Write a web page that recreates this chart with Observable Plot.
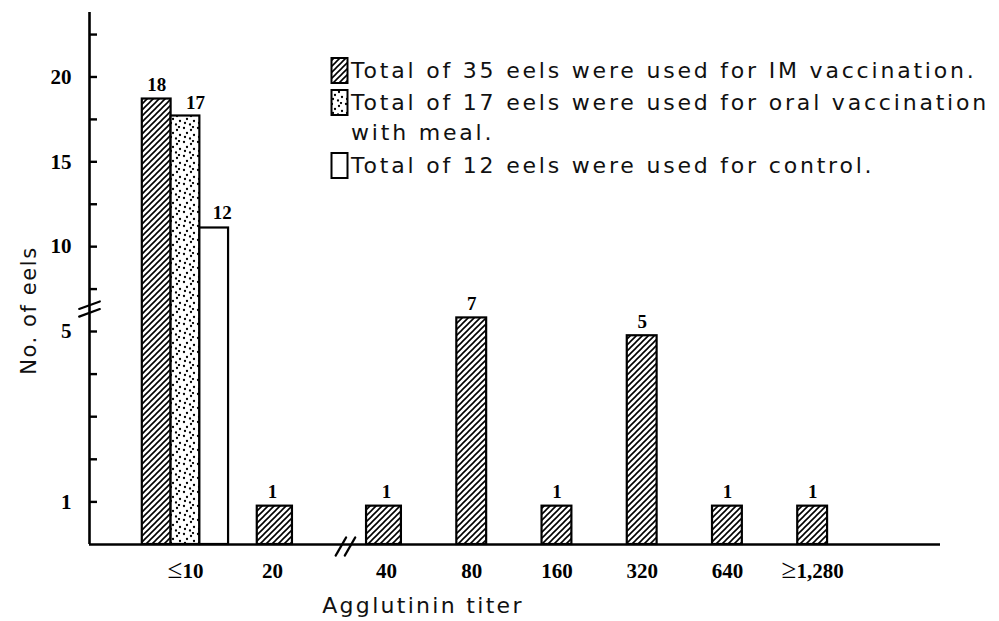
<!DOCTYPE html>
<html>
<head>
<meta charset="utf-8">
<script src="https://cdn.jsdelivr.net/npm/d3@7"></script>
<script src="https://cdn.jsdelivr.net/npm/@observablehq/plot@0.6"></script>
<style>
html, body { margin: 0; padding: 0; background: #fff; width: 999px; height: 621px; overflow: hidden; }
#wrap { position: relative; width: 999px; height: 621px; }
#legend { position: absolute; left: 0; top: 0; font-family: "DejaVu Sans", sans-serif; font-size: 22px; letter-spacing: 2.8px; color: #111; white-space: nowrap; }
.row { position: absolute; left: 330px; }
.row svg { position: absolute; left: 0; }
.row span { position: absolute; left: 21px; line-height: 30px; }
</style>
</head>
<body>
<div id="wrap"><div id="legend"></div></div>
<script>
// ---- data ----
const titers = ["≤10", "20", "40", "80", "160", "320", "640", "≥1,280"];
// IM vaccination: printed counts and bar heights as drawn on the (broken) y axis
const imCount  = [18, 1, 1, 7, 1, 5, 1, 1];
const imHeight = [18.7, 0.9, 0.9, 5.8, 0.9, 4.9, 0.9, 0.9];
// oral vaccination with meal (only in the ≤10 class)
const oralCount  = [17];
const oralHeight = [17.7];
// control (only in the ≤10 class)
const controlCount  = [12];
const controlHeight = [11.1];
const yTicks = [1, 2, 3, 4, 5, 7.5, 10, 12.5, 15, 17.5, 20, 22.5];
const yTickLabels = [1, 5, 10, 15, 20];
const yBreak = [6.1, 6.55];
const xBreak = [1.6, 1.68];
const legendLabels = [
  "Total of 35 eels were used for IM vaccination.",
  "Total of 17 eels were used for oral vaccination",
  "with meal.",
  "Total of 12 eels were used for control."
];

// ---- broken axes: piecewise transforms applied by the scales ----
const xStops = [-1.1, 0, 1, 2, 8.5];
const xUnits = [0, 96, 183, 297, 851];
const yStops = [0, 5, 23.8];
const yUnits = [0, 213, 532];
const xPiece = d3.scaleLinear().domain(xStops).range(xUnits);
const yPiece = d3.scaleLinear().domain(yStops).range(yUnits);

// ---- build rows ----
const groupW = 0.33, singleW = 0.35;
const imRows = imCount.map((n, i) => ({
  titer: titers[i], n, h: imHeight[i],
  pos: i === 0 ? -groupW : i, w: i === 0 ? groupW : singleW
}));
const oralRows = oralCount.map((n, i) => ({titer: titers[i], n, h: oralHeight[i], pos: i, w: groupW}));
const controlRows = controlCount.map((n, i) => ({titer: titers[i], n, h: controlHeight[i], pos: i + groupW, w: groupW}));

const serif = "'Liberation Serif', 'DejaVu Serif', serif";
const sans = "'DejaVu Sans', sans-serif";
const x1 = d => d.pos - d.w / 2, x2 = d => d.pos + d.w / 2;

const slash = {draw(ctx, l) { ctx.moveTo(0, 0); ctx.lineTo(0, -l); }};

const chart = Plot.plot({
  width: 999, height: 621,
  marginLeft: 89, marginRight: 59, marginTop: 12, marginBottom: 77,
  x: {type: "linear", transform: xPiece, domain: [xUnits[0], xUnits[xUnits.length - 1]]},
  y: {type: "linear", transform: yPiece, domain: [yUnits[0], yUnits[yUnits.length - 1]]},
  style: {background: "white", color: "black", fontFamily: serif},
  marks: [
    Plot.rectY(imRows, {x1, x2, y1: () => 0, y2: "h", fill: "url(#hatch)", stroke: "black", strokeWidth: 2.2}),
    Plot.rectY(oralRows, {x1, x2, y1: () => 0, y2: "h", fill: "url(#dots)", stroke: "black", strokeWidth: 2.2}),
    Plot.rectY(controlRows, {x1, x2, y1: () => 0, y2: "h", fill: "white", stroke: "black", strokeWidth: 2.2}),
    Plot.ruleX([xStops[0]], {strokeWidth: 2.6}),
    Plot.ruleY([0], {strokeWidth: 2.6}),
    // axis ticks are given in the scales' transformed space
    Plot.axisY({ticks: yTicks.map(yPiece), tickSize: -8, tickFormat: () => "", strokeWidth: 2.4, label: null}),
    Plot.axisY({ticks: yTickLabels.map(yPiece), tickSize: 0, tickPadding: 18, tickFormat: v => String(Math.round(yPiece.invert(v))), fontSize: 21, fontWeight: "bold", fontFamily: serif, label: null}),
    Plot.axisX({ticks: titers.map((t, i) => xPiece(i)), tickSize: 0, tickPadding: 19, tickFormat: v => titers[Math.round(xPiece.invert(v))], fontSize: 21, fontFamily: serif, fontWeight: "bold", label: null}),
    Plot.vector(yBreak, {y: d => d, frameAnchor: "left", length: 22, rotate: 70, anchor: "middle", shape: slash, stroke: "black", strokeWidth: 2.2}),
    Plot.vector(xBreak, {x: d => d, frameAnchor: "bottom", dy: 2, length: 21, rotate: 30, anchor: "middle", shape: slash, stroke: "black", strokeWidth: 2.2}),
    Plot.text(imRows, {x: "pos", y: "h", text: "n", dy: -8, lineAnchor: "bottom", fontSize: 19, fontWeight: "bold", fontFamily: serif}),
    Plot.text(oralRows, {x: "pos", y: "h", text: "n", dx: 10, dy: -7, lineAnchor: "bottom", fontSize: 19, fontWeight: "bold", fontFamily: serif}),
    Plot.text(controlRows, {x: "pos", y: "h", text: "n", dx: 8, dy: -9, lineAnchor: "bottom", fontSize: 19, fontWeight: "bold", fontFamily: serif}),
    Plot.text(["No. of eels"], {frameAnchor: "left", textAnchor: "middle", dx: -60, dy: 32, rotate: -90, text: d => d, fontSize: 21, fontFamily: sans, fill: "#111"}),
    Plot.text(["Agglutinin titer"], {frameAnchor: "bottom", textAnchor: "middle", dx: -92, dy: 68, lineAnchor: "bottom", text: d => d, fontSize: 22, fontFamily: sans, fill: "#111"})
  ]
});

// patterns
const svg = d3.select(chart);
const defs = svg.insert("defs", ":first-child");
const hatch = defs.append("pattern").attr("id", "hatch").attr("patternUnits", "userSpaceOnUse").attr("width", 6).attr("height", 6);
hatch.append("rect").attr("width", 6).attr("height", 6).attr("fill", "white");
hatch.append("path").attr("d", "M-1,1 l2,-2 M0,6 l6,-6 M5,7 l2,-2").attr("stroke", "black").attr("stroke-width", 1.6);
const dots = defs.append("pattern").attr("id", "dots").attr("patternUnits", "userSpaceOnUse").attr("width", 14).attr("height", 14);
dots.append("rect").attr("width", 14).attr("height", 14).attr("fill", "white");
[[2,2],[9,4],[5,7],[12,9],[3,11],[8,12.5],[11,1]].forEach(([cx, cy]) =>
  dots.append("circle").attr("cx", cx).attr("cy", cy).attr("r", 1.15).attr("fill", "black"));
svg.selectAll("text").filter(function() { return this.textContent === "Agglutinin titer"; }).style("letter-spacing", "2.3px");
svg.selectAll("text").filter(function() { return this.textContent === "No. of eels"; }).style("letter-spacing", "1.6px");
// the "≤"/"≥" signs are drawn large in the original
svg.selectAll("text").filter(function() { return this.textContent === "≤10" || this.textContent === "≥1,280"; })
  .each(function() {
    const t = this.textContent, sign = t[0], rest = t.slice(1);
    const el = d3.select(this);
    el.text(null);
    el.append("tspan").attr("font-size", 27).attr("font-weight", "normal").text(sign);
    el.append("tspan").text(rest);
  });

document.getElementById("wrap").prepend(chart);

// legend (overlaid in the plot's upper right)
const legend = document.getElementById("legend");
const legendRows = [
  {top: 56, fill: "url(#hatch)", text: legendLabels[0], sw: true},
  {top: 88, fill: "url(#dots)", text: legendLabels[1], sw: true},
  {top: 118, fill: null, text: legendLabels[2], sw: false},
  {top: 151, fill: "white", text: legendLabels[3], sw: true}
];
legendRows.forEach(r => {
  const div = document.createElement("div");
  div.className = "row";
  div.style.top = r.top + "px";
  if (r.sw) {
    div.innerHTML = `<svg width="20" height="30"><rect x="1.5" y="2" width="16" height="25" fill="${r.fill}" stroke="black" stroke-width="2"/></svg>`;
  }
  const span = document.createElement("span");
  span.textContent = r.text;
  div.appendChild(span);
  legend.appendChild(div);
});
</script>
</body>
</html>
